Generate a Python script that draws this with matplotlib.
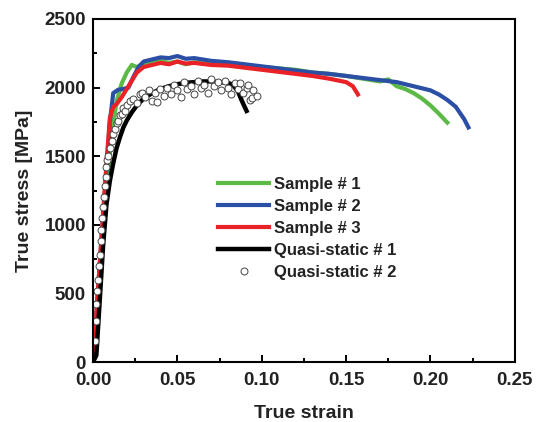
import numpy as np
import matplotlib.pyplot as plt
from matplotlib.ticker import MultipleLocator

plt.rcParams['font.family'] = ['Liberation Sans', 'DejaVu Sans']
plt.rcParams['font.weight'] = 'bold'
plt.rcParams['axes.labelweight'] = 'bold'

# Sample # 1 (green)
s1_x = [0.0, 0.002, 0.005, 0.008, 0.011, 0.014, 0.017, 0.020, 0.023, 0.026, 0.030, 0.035,
        0.040, 0.045, 0.050, 0.055, 0.060, 0.070, 0.080, 0.090, 0.100, 0.110, 0.120, 0.130,
        0.140, 0.150, 0.160, 0.170, 0.175, 0.180, 0.185, 0.190, 0.195, 0.200, 0.205, 0.210]
s1_y = [0, 300, 800, 1250, 1650, 1900, 2030, 2110, 2165, 2150, 2175, 2185,
        2195, 2180, 2190, 2170, 2185, 2170, 2165, 2150, 2150, 2140, 2130, 2110,
        2100, 2085, 2065, 2045, 2060, 2010, 1990, 1960, 1920, 1870, 1810, 1745]

# Sample # 2 (blue)
s2_x = [0.0, 0.002, 0.005, 0.008, 0.010, 0.012, 0.015, 0.018, 0.021, 0.024, 0.027, 0.030,
        0.035, 0.040, 0.045, 0.050, 0.055, 0.060, 0.070, 0.080, 0.090, 0.100, 0.110, 0.120,
        0.130, 0.140, 0.150, 0.160, 0.170, 0.180, 0.190, 0.200, 0.205, 0.210, 0.215, 0.220, 0.2225]
s2_y = [0, 350, 900, 1400, 1750, 1960, 1985, 1990, 2000, 2080, 2150, 2190,
        2205, 2220, 2215, 2230, 2210, 2215, 2195, 2185, 2170, 2155, 2140, 2125,
        2110, 2100, 2085, 2070, 2055, 2040, 2010, 1980, 1950, 1910, 1860, 1770, 1710]

# Sample # 3 (red)
s3_x = [0.0, 0.002, 0.005, 0.008, 0.010, 0.012, 0.014, 0.017, 0.020, 0.023, 0.026, 0.030,
        0.035, 0.040, 0.045, 0.050, 0.055, 0.060, 0.070, 0.080, 0.090, 0.100, 0.110, 0.120,
        0.130, 0.140, 0.150, 0.154, 0.157]
s3_y = [0, 350, 900, 1450, 1780, 1860, 1880, 1930, 1990, 2050, 2110, 2150,
        2165, 2180, 2170, 2190, 2175, 2180, 2165, 2160, 2145, 2130, 2115, 2100,
        2085, 2065, 2040, 2010, 1950]

# Quasi-static # 1 (black line)
q1_x = [0.0, 0.002, 0.004, 0.006, 0.008, 0.010, 0.012, 0.014, 0.016, 0.018, 0.020, 0.023,
        0.026, 0.030, 0.035, 0.040, 0.045, 0.050, 0.055, 0.060, 0.065, 0.070, 0.075, 0.080,
        0.083, 0.086, 0.088, 0.091]
q1_y = [0, 50, 450, 850, 1150, 1320, 1450, 1560, 1640, 1710, 1760, 1820,
        1870, 1920, 1960, 1990, 2010, 2025, 2035, 2040, 2045, 2045, 2040, 2035,
        2020, 1970, 1910, 1830]

# Quasi-static # 2 (open circles)
q2_x = [0.001, 0.0015, 0.002, 0.0025, 0.003, 0.0035, 0.004, 0.0045, 0.005, 0.0055,
        0.006, 0.0065, 0.007, 0.0075, 0.008, 0.0085, 0.009, 0.010, 0.011, 0.012,
        0.013, 0.014, 0.015, 0.016, 0.017, 0.018, 0.019, 0.020, 0.022, 0.024,
        0.026, 0.028, 0.029, 0.031, 0.033, 0.035, 0.037, 0.038, 0.040, 0.042,
        0.044, 0.046, 0.048, 0.050, 0.052, 0.054, 0.056, 0.058, 0.060, 0.062,
        0.064, 0.066, 0.068, 0.070, 0.072, 0.074, 0.076, 0.078, 0.080, 0.082,
        0.084, 0.086, 0.087, 0.089, 0.091, 0.092, 0.093, 0.094, 0.095, 0.097]
q2_y = [150, 300, 420, 520, 600, 700, 780, 880, 960, 1050,
        1130, 1200, 1280, 1350, 1420, 1470, 1500, 1560, 1610, 1660,
        1700, 1740, 1760, 1800, 1810, 1850, 1830, 1870, 1900, 1920,
        1890, 1950, 1960, 1930, 1980, 1900, 1960, 1895, 1990, 1940,
        2000, 1950, 2020, 1980, 1930, 2040, 1990, 2010, 1950, 2050,
        2000, 2020, 1960, 2060, 2010, 2040, 1980, 2050, 2000, 1950,
        2030, 1990, 2034, 1960, 1997, 2020, 1910, 1925, 1983, 1940]

fig = plt.figure(figsize=(5.36, 4.22), dpi=100)
ax = fig.add_axes([0.1735, 0.142, 0.787, 0.813])

txt = '#222222'
ax.plot(s1_x, s1_y, color='#5cb946', lw=3.0, label='Sample # 1')
ax.plot(s2_x, s2_y, color='#2c4fa6', lw=3.0, label='Sample # 2')
ax.plot(s3_x, s3_y, color='#ea2228', lw=3.0, label='Sample # 3')
ax.plot(q1_x, q1_y, color='black', lw=3.2, label='Quasi-static # 1')
ax.plot(q2_x, q2_y, ls='none', marker='o', ms=5, mfc='white', mec='#444444',
        mew=0.7, label='Quasi-static # 2')

ax.set_xlim(0, 0.25)
ax.set_ylim(0, 2500)
ax.xaxis.set_major_locator(MultipleLocator(0.05))
ax.xaxis.set_minor_locator(MultipleLocator(0.025))
ax.yaxis.set_major_locator(MultipleLocator(500))
ax.yaxis.set_minor_locator(MultipleLocator(250))
ax.xaxis.set_major_formatter(plt.FormatStrFormatter('%.2f'))
ax.tick_params(which='both', direction='in', top=False, right=False,
               width=1.4, labelsize=13.5, labelcolor=txt)
ax.tick_params(axis='y', pad=5)
ax.tick_params(axis='x', pad=7)
ax.tick_params(which='major', length=5)
ax.tick_params(which='minor', length=3)
for sp in ax.spines.values():
    sp.set_linewidth(1.5)

ax.set_xlabel('True strain', fontsize=14, fontweight='bold', color=txt, labelpad=12)
ax.set_ylabel('True stress [MPa]', fontsize=14, fontweight='bold', color=txt, labelpad=8)

leg = ax.legend(loc='upper left', bbox_to_anchor=(0.28, 0.56), frameon=False,
                fontsize=12, handlelength=3.1, handletextpad=0.3,
                labelspacing=0.42, borderaxespad=0)
for t in leg.get_texts():
    t.set_color(txt)

fig.savefig('out.png', dpi=100)
